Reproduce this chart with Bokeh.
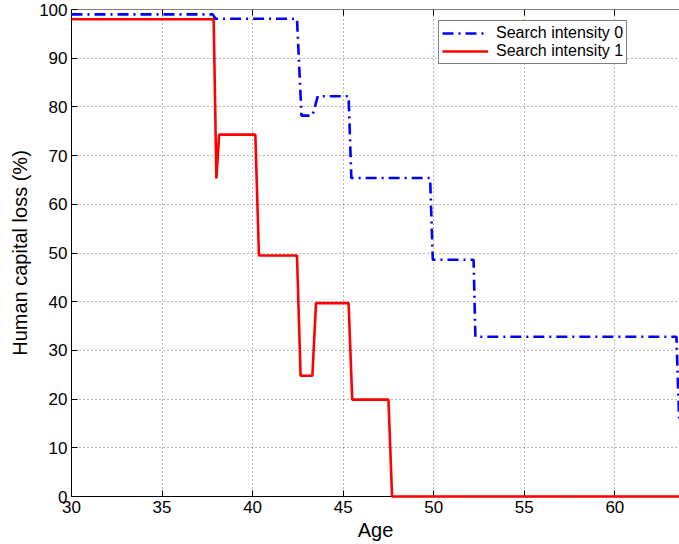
from bokeh.plotting import figure
from bokeh.models import LinearAxis, Range1d, Legend, LegendItem, FixedTicker, CustomJSTickFormatter
from bokeh.embed import file_html
from bokeh.resources import INLINE

# ---- data ----
age_s0 = [30, 37.8, 37.95, 42.45, 42.7, 43.3, 43.6, 45.3, 45.45, 49.8, 49.95, 52.2, 52.3, 63.4, 63.55]
loss_s0 = [99.0, 99.0, 98.1, 98.1, 78.2, 78.2, 82.2, 82.2, 65.4, 65.4, 48.6, 48.6, 32.8, 32.8, 16.0]

age_s1 = [30, 37.85, 38.0, 38.15, 40.15, 40.35, 42.45, 42.65, 43.3, 43.5, 45.3, 45.5, 47.5, 47.7, 63.6]
loss_s1 = [98.0, 98.0, 65.3, 74.3, 74.3, 49.5, 49.5, 24.8, 24.8, 39.7, 39.7, 19.9, 19.9, 0.0, 0.0]

x_ticks = [30, 35, 40, 45, 50, 55, 60]
y_ticks = [0, 10, 20, 30, 40, 50, 60, 70, 80, 90, 100]
series_labels = ["Search intensity 0", "Search intensity 1"]
x_label = "Age"
y_label = "Human capital loss (%)"

FONT = "Liberation Sans"

p = figure(width=679, height=544, output_backend="svg", toolbar_location=None,
           x_range=Range1d(30, 63.57), y_range=Range1d(0, 100),
           min_border_left=71, min_border_right=0, min_border_top=9, min_border_bottom=48,
           x_axis_label=x_label, y_axis_label=y_label)
p.outline_line_color = None
p.background_fill_color = "white"
p.border_fill_color = "white"

for ax in p.xaxis + p.yaxis:
    ax.major_tick_in = 6
    ax.major_tick_out = 0
    ax.minor_tick_line_color = None
    ax.axis_line_color = "black"
    ax.major_tick_line_color = "black"
    ax.major_label_text_font = FONT
    ax.major_label_text_font_size = "17px"
    ax.major_label_text_color = "black"
    ax.axis_label_text_font = FONT
    ax.axis_label_text_font_size = "20px"
    ax.axis_label_text_font_style = "normal"
    ax.axis_label_text_color = "black"

p.xaxis.ticker = FixedTicker(ticks=x_ticks)
p.yaxis.ticker = FixedTicker(ticks=y_ticks)
p.xaxis.major_label_standoff = 4
p.xaxis.axis_label_standoff = 3
p.yaxis.major_label_standoff = 4
p.yaxis.axis_label_standoff = 5

# top border of the box, with inward ticks and no labels
top = LinearAxis(ticker=FixedTicker(ticks=x_ticks), fixed_location=100,
                 major_tick_in=6, major_tick_out=0, minor_tick_line_color=None,
                 formatter=CustomJSTickFormatter(code="return ''"),
                 axis_line_color="black", major_tick_line_color="black")
p.add_layout(top, "above")

for g in (p.xgrid, p.ygrid):
    g.grid_line_color = "black"
    g.grid_line_alpha = 0.55
    g.grid_line_dash = "1 3"
    g.grid_line_width = 1
p.xgrid.ticker = FixedTicker(ticks=x_ticks)
p.ygrid.ticker = FixedTicker(ticks=y_ticks)

r0 = p.line(age_s0, loss_s0, line_color="#0000ff", line_width=2.6, line_dash="11 5 2 5", level="overlay")
r1 = p.line(age_s1, loss_s1, line_color="#ff0000", line_width=2.6, level="overlay")

legend = Legend(items=[LegendItem(label=series_labels[0], renderers=[r0]),
                       LegendItem(label=series_labels[1], renderers=[r1])],
                location=(367, 432))
legend.label_text_font = FONT
legend.label_text_font_size = "16px"
legend.label_text_color = "black"
legend.glyph_width = 46
legend.glyph_height = 16
legend.label_height = 16
legend.label_standoff = 8
legend.padding = 3
legend.spacing = 0
legend.margin = 0
legend.border_line_color = "black"
legend.border_line_width = 1.5
legend.background_fill_color = "white"
legend.background_fill_alpha = 1
p.add_layout(legend)

open("out.html", "w").write(file_html(p, INLINE))
